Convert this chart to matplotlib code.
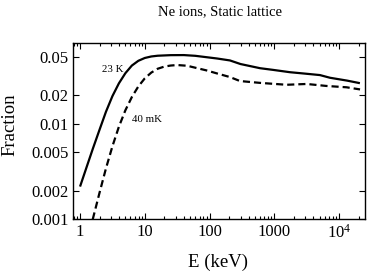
import matplotlib
matplotlib.use("Agg")
import matplotlib.pyplot as plt
from matplotlib.ticker import FixedLocator, LogLocator, NullFormatter, NullLocator

# fonts: Times-like serif everywhere
plt.rcParams['font.family'] = ['Liberation Serif', 'DejaVu Serif']
plt.rcParams['mathtext.fontset'] = 'custom'
plt.rcParams['mathtext.rm'] = 'Liberation Serif'

# energy (keV) and fractions
e_warm = [1.0, 1.26, 1.58, 2.0, 2.51, 3.16, 3.98, 5.01, 6.31, 7.94, 10, 12.6, 15.8,
          25, 40, 60, 90, 130, 206, 300, 600, 951, 1740, 2770, 5050, 7200, 13200,
          20900]
f_warm = [0.0022, 0.0035, 0.0055, 0.00865, 0.0133, 0.0194, 0.0264, 0.0337, 0.0405,
          0.0454, 0.0486, 0.0504, 0.0513, 0.052, 0.0521, 0.0512, 0.0495, 0.048,
          0.0458, 0.042, 0.038, 0.0365, 0.0345, 0.0335, 0.0322, 0.0302, 0.0282,
          0.0265]

e_cold = [1.57, 2.0, 2.51, 3.16, 3.98, 5.01, 6.31, 7.94, 10, 12.6, 15.8, 20, 25,
          31.6, 45, 70, 90, 130, 206, 294, 596, 1540, 3160, 6300, 13000, 21000]
f_cold = [0.001, 0.0019, 0.0034, 0.0058, 0.0093, 0.0138, 0.019, 0.0245, 0.0298,
          0.0342, 0.0375, 0.0395, 0.0405, 0.041, 0.0403, 0.0375, 0.036, 0.0335,
          0.0307, 0.0279, 0.0267, 0.0255, 0.026, 0.0248, 0.024, 0.0228]

xticks = [1, 10, 100, 1000, 10000]
xticklabels = ["1", "10", "100", "1000", r"$\mathregular{10^4}$"]
yticks = [0.001, 0.002, 0.005, 0.01, 0.02, 0.05]
yticklabels = ["0.001", "0.002", "0.005", "0.01", "0.02", "0.05"]

fig = plt.figure(figsize=(3.69, 2.78), dpi=100)
ax = fig.add_axes([0.197, 0.211, 0.792, 0.635])

ax.plot(e_warm, f_warm, color='black', linewidth=1.6, solid_capstyle='butt')
ax.plot(e_cold, f_cold, color='black', linewidth=1.6, dashes=(3.2, 1.8))

ax.set_xscale('log')
ax.set_yscale('log')
ax.set_xlim(0.77, 25000)
ax.set_ylim(0.001, 0.07)

ax.xaxis.set_major_locator(FixedLocator(xticks))
ax.set_xticklabels(xticklabels)
ax.xaxis.set_minor_locator(LogLocator(base=10, subs=range(2, 10)))
ax.xaxis.set_minor_formatter(NullFormatter())
ax.yaxis.set_major_locator(FixedLocator(yticks))
ax.set_yticklabels(yticklabels)
ax.yaxis.set_minor_locator(NullLocator())

ax.tick_params(which='both', direction='in', top=True, right=True, labelsize=12,
               width=0.8, pad=3)
ax.tick_params(which='major', length=4)
ax.tick_params(which='minor', length=2)
for s in ax.spines.values():
    s.set_linewidth(1.0)

# curve labels
ax.text(3.23, 0.037, "23 K", fontsize=7.8, ha='center', va='center')
ax.text(10.7, 0.0111, "40 mK", fontsize=7.8, ha='center', va='center')

ax.set_xlabel("E (keV)", fontsize=13.5, va='center')
ax.xaxis.set_label_coords(0.497, -0.242)
ax.set_ylabel("Fraction", fontsize=13.5, va='center')
ax.yaxis.set_label_coords(-0.215, 0.534)
fig.text(0.596, 0.958, "Ne ions, Static lattice", fontsize=10.5, ha='center', va='center')

fig.savefig("out.png", dpi=100)
